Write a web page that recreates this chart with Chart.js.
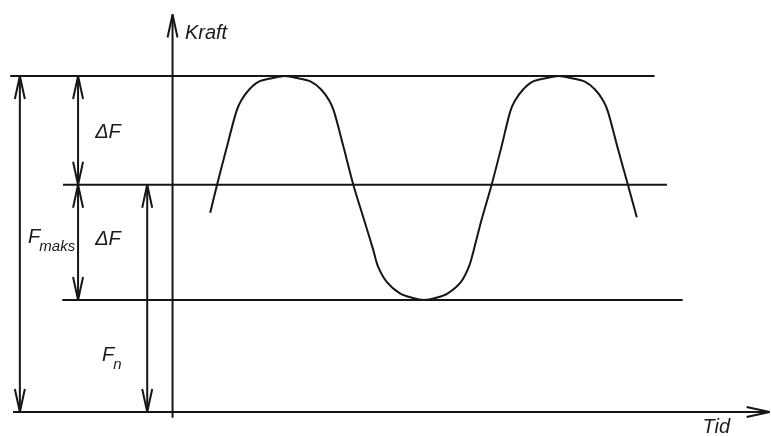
<!DOCTYPE html>
<html>
<head>
<meta charset="utf-8">
<title>Kraft / Tid</title>
<script src="https://cdn.jsdelivr.net/npm/chart.js@4.4.1/dist/chart.umd.min.js"></script>
<style>
  body { margin: 0; background: #ffffff; }
  #wrap { width: 771px; height: 436px; }
</style>
</head>
<body>
<div id="wrap"><canvas id="kraftChart" width="771" height="436"></canvas></div>
<script>
// force levels (same unit on the y axis)
const fMaks = 3.0;
const fN = 2.03;
const fMin = 1.0;

// load curve, time vs force
const waveTime = [0.55, 0.65, 0.79, 0.93, 1.00, 1.12, 1.26, 1.45, 1.64, 1.83,
                  2.02, 2.17, 2.29, 2.36, 2.50, 2.64, 2.80, 2.93, 3.00, 3.13,
                  3.32, 3.50, 3.67, 3.85, 4.02, 4.21, 4.33, 4.40, 4.51, 4.66,
                  4.80, 4.93, 5.00, 5.12, 5.26, 5.45, 5.64, 5.83, 6.02, 6.17,
                  6.29, 6.36, 6.50, 6.65, 6.78];
const waveForce = [1.78, 2.03, 2.36, 2.68, 2.78, 2.88, 2.95, 2.98, 3.00, 2.98,
                   2.95, 2.88, 2.78, 2.68, 2.36, 2.03, 1.71, 1.45, 1.30, 1.16,
                   1.06, 1.02, 1.00, 1.02, 1.06, 1.16, 1.30, 1.45, 1.71, 2.03,
                   2.36, 2.68, 2.78, 2.88, 2.95, 2.98, 3.00, 2.98, 2.95, 2.88,
                   2.78, 2.68, 2.36, 2.03, 1.74];

// reach of the horizontal guide lines (time units)
const maksLine = [-2.37, 7.04];
const nLine = [-1.60, 7.22];
const minLine = [-1.61, 7.45];
const timeAxis = [-2.33, 8.72];
const forceAxis = [-0.05, 3.55];

// where the dimension arrows stand
const fMaksArrowX = -2.23;
const deltaArrowX = -1.38;
const fNArrowX = -0.37;

const ink = '#161616';

function seg(x1, y1, x2, y2) {
    return [{ x: x1, y: y1 }, { x: x2, y: y2 }];
}

function lineSet(points, arrows) {
    return {
        data: points,
        showLine: true,
        borderColor: ink,
        borderWidth: 2,
        pointRadius: 0,
        tension: 0,
        clip: false,
        arrows: arrows || []
    };
}

const wavePoints = waveTime.map((t, i) => ({ x: t, y: waveForce[i] }));

const datasets = [
    Object.assign(lineSet(wavePoints), { tension: 0.3 }),
    lineSet(seg(maksLine[0], fMaks, maksLine[1], fMaks)),
    lineSet(seg(nLine[0], fN, nLine[1], fN)),
    lineSet(seg(minLine[0], fMin, minLine[1], fMin)),
    lineSet(seg(timeAxis[0], 0, timeAxis[1], 0), ['end']),
    lineSet(seg(0, forceAxis[0], 0, forceAxis[1]), ['end']),
    lineSet(seg(fMaksArrowX, fMaks, fMaksArrowX, 0), ['start', 'end']),
    lineSet(seg(deltaArrowX, fMaks, deltaArrowX, fN), ['start', 'end']),
    lineSet(seg(deltaArrowX, fN, deltaArrowX, fMin), ['start', 'end']),
    lineSet(seg(fNArrowX, fN, fNArrowX, 0), ['start', 'end'])
];

// text labels: [main, subscript, time, force]
const labels = [
    ['Kraft', '', 0.18, 3.33],
    ['\u0394F', '', -1.13, 2.45],
    ['\u0394F', '', -1.13, 1.49],
    ['F', 'maks', -2.11, 1.51],
    ['F', 'n', -1.03, 0.46],
    ['Tid', '', 7.74, -0.19]
];

// open V heads on the ends of the dimension lines
const arrowHeads = {
    id: 'arrowHeads',
    afterDatasetsDraw(chart) {
        const ctx = chart.ctx;
        ctx.save();
        ctx.strokeStyle = ink;
        ctx.lineWidth = 2;
        chart.data.datasets.forEach((ds, i) => {
            const pts = chart.getDatasetMeta(i).data;
            ds.arrows.forEach(end => {
                const tip = end === 'end' ? pts[pts.length - 1] : pts[0];
                const from = end === 'end' ? pts[pts.length - 2] : pts[1];
                const ang = Math.atan2(tip.y - from.y, tip.x - from.x);
                const len = 23, half = 5;
                ctx.beginPath();
                for (const s of [-1, 1]) {
                    ctx.moveTo(tip.x, tip.y);
                    ctx.lineTo(tip.x - len * Math.cos(ang) - s * half * Math.sin(ang),
                               tip.y - len * Math.sin(ang) + s * half * Math.cos(ang));
                }
                ctx.stroke();
            });
        });
        ctx.restore();
    }
};

const textLabels = {
    id: 'textLabels',
    afterDraw(chart) {
        const ctx = chart.ctx;
        const xs = chart.scales.x, ys = chart.scales.y;
        ctx.save();
        ctx.fillStyle = '#1a1a1a';
        ctx.textBaseline = 'alphabetic';
        labels.forEach(([main, sub, t, f]) => {
            const px = xs.getPixelForValue(t);
            const py = ys.getPixelForValue(f);
            ctx.font = 'italic 20px "Liberation Sans", Arial, sans-serif';
            ctx.fillText(main, px, py);
            if (sub) {
                const w = ctx.measureText(main).width;
                ctx.font = 'italic 15px "Liberation Sans", Arial, sans-serif';
                ctx.fillText(sub, px + w - 1, py + 8);
            }
        });
        ctx.restore();
    }
};

new Chart(document.getElementById('kraftChart'), {
    type: 'scatter',
    data: { datasets: datasets },
    options: {
        responsive: false,
        animation: false,
        devicePixelRatio: 1,
        layout: { padding: 0 },
        plugins: { legend: { display: false }, tooltip: { enabled: false } },
        scales: {
            x: { type: 'linear', min: -2.52, max: 8.74, display: false },
            y: { type: 'linear', min: -0.214, max: 3.679, display: false }
        }
    },
    plugins: [arrowHeads, textLabels]
});
</script>
</body>
</html>
